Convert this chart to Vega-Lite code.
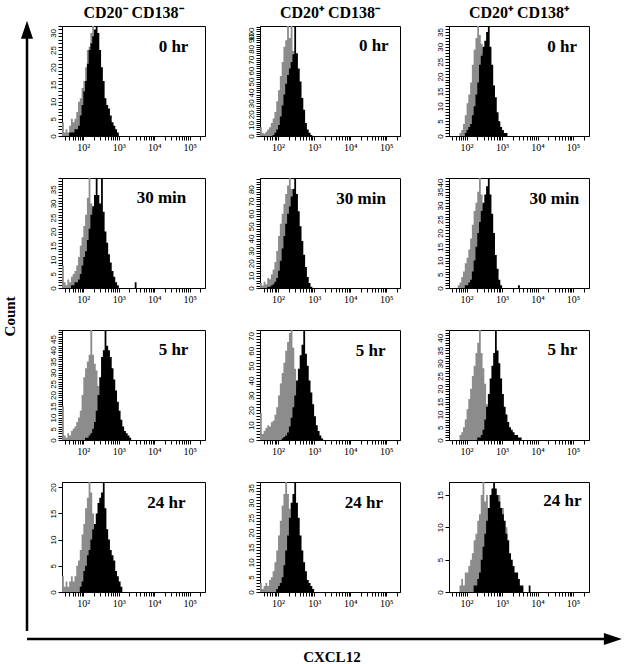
{
"$schema": "https://vega.github.io/schema/vega-lite/v6.json",
"padding": {"left": 0, "top": 4, "right": 0, "bottom": 0},
"background": "#ffffff",
"config": {
  "view": {"stroke": "#000000", "strokeWidth": 1},
  "axis": {"grid": false, "domainColor": "#000000", "tickColor": "#000000", "tickSize": 4, "ticks": true, "labelColor": "#000000", "labelFont": "Liberation Serif", "labelFontSize": 10, "labelPadding": 2, "labelFlush": false, "labelOverlap": false},
  "axisY": {"labelAngle": 270, "labelAlign": "center", "labelBaseline": "bottom", "labelFont": "Liberation Sans", "labelFontSize": 8, "labelPadding": 1},
  "title": {"font": "Liberation Serif", "fontSize": 16, "fontWeight": "bold", "color": "#000000", "offset": 5, "frame": "group"},
  "text": {"font": "Liberation Serif", "fontWeight": "bold", "fontSize": 17, "color": "#000000", "align": "center", "baseline": "middle"},
  "area": {"interpolate": "step-after", "clip": true}
},
"datasets": {
"p11": [{"x":25.1,"g":4,"b":0},{"x":28.2,"g":1,"b":0},{"x":31.6,"g":2,"b":0},{"x":35.5,"g":1,"b":0},{"x":39.8,"g":3,"b":1},{"x":44.7,"g":5,"b":1},{"x":50.1,"g":4,"b":1},{"x":56.2,"g":5,"b":2},{"x":63.1,"g":7,"b":2},{"x":70.8,"g":10,"b":3},{"x":79.4,"g":11,"b":6},{"x":89.1,"g":14,"b":9},{"x":100,"g":16,"b":13},{"x":112,"g":20,"b":16},{"x":126,"g":25,"b":21},{"x":141,"g":26,"b":25},{"x":158,"g":30,"b":27},{"x":178,"g":32,"b":29},{"x":200,"g":27,"b":31},{"x":224,"g":26,"b":32},{"x":251,"g":22,"b":30},{"x":282,"g":18,"b":25},{"x":316,"g":14,"b":20},{"x":355,"g":10,"b":16},{"x":398,"g":7,"b":11},{"x":447,"g":4,"b":9},{"x":501,"g":3,"b":8},{"x":562,"g":1,"b":6},{"x":631,"g":0,"b":4},{"x":708,"g":0,"b":3},{"x":794,"g":0,"b":2},{"x":891,"g":0,"b":1},{"x":1000,"g":0,"b":0}],
"p12": [{"x":31.6,"g":8,"b":0},{"x":35.5,"g":3,"b":0},{"x":39.8,"g":2,"b":0},{"x":44.7,"g":4,"b":0},{"x":50.1,"g":6,"b":0},{"x":56.2,"g":8,"b":0},{"x":63.1,"g":12,"b":0},{"x":70.8,"g":16,"b":1},{"x":79.4,"g":22,"b":3},{"x":89.1,"g":32,"b":6},{"x":100,"g":42,"b":10},{"x":112,"g":55,"b":18},{"x":126,"g":68,"b":28},{"x":141,"g":82,"b":38},{"x":158,"g":88,"b":48},{"x":178,"g":101,"b":56},{"x":200,"g":90,"b":62},{"x":224,"g":101,"b":68},{"x":251,"g":78,"b":75},{"x":282,"g":62,"b":101},{"x":316,"g":45,"b":76},{"x":355,"g":30,"b":62},{"x":398,"g":18,"b":50},{"x":447,"g":10,"b":35},{"x":501,"g":5,"b":24},{"x":562,"g":2,"b":12},{"x":631,"g":0,"b":6},{"x":708,"g":0,"b":3},{"x":794,"g":0,"b":1},{"x":891,"g":0,"b":0}],
"p13": [{"x":63.1,"g":1,"b":0},{"x":70.8,"g":2,"b":0},{"x":79.4,"g":4,"b":0},{"x":89.1,"g":7,"b":1},{"x":100,"g":11,"b":2},{"x":112,"g":14,"b":3},{"x":126,"g":18,"b":4},{"x":141,"g":24,"b":7},{"x":158,"g":29,"b":10},{"x":178,"g":33,"b":14},{"x":200,"g":37,"b":18},{"x":224,"g":34,"b":24},{"x":251,"g":31,"b":27},{"x":282,"g":28,"b":30},{"x":316,"g":22,"b":32},{"x":355,"g":16,"b":35},{"x":398,"g":11,"b":37},{"x":447,"g":7,"b":30},{"x":501,"g":4,"b":24},{"x":562,"g":2,"b":17},{"x":631,"g":1,"b":13},{"x":708,"g":0,"b":8},{"x":794,"g":0,"b":5},{"x":891,"g":0,"b":3},{"x":1000,"g":0,"b":2},{"x":1122,"g":0,"b":1},{"x":1259,"g":0,"b":1},{"x":1413,"g":0,"b":0}],
"p21": [{"x":25.1,"g":8,"b":0},{"x":28.2,"g":2,"b":0},{"x":31.6,"g":1,"b":0},{"x":35.5,"g":3,"b":0},{"x":39.8,"g":2,"b":0},{"x":44.7,"g":4,"b":1},{"x":50.1,"g":5,"b":1},{"x":56.2,"g":6,"b":2},{"x":63.1,"g":8,"b":2},{"x":70.8,"g":11,"b":3},{"x":79.4,"g":15,"b":5},{"x":89.1,"g":18,"b":8},{"x":100,"g":22,"b":11},{"x":112,"g":26,"b":13},{"x":126,"g":32,"b":17},{"x":141,"g":39,"b":21},{"x":158,"g":30,"b":26},{"x":178,"g":28,"b":29},{"x":200,"g":24,"b":33},{"x":224,"g":20,"b":39},{"x":251,"g":15,"b":33},{"x":282,"g":11,"b":30},{"x":316,"g":8,"b":39},{"x":355,"g":5,"b":27},{"x":398,"g":3,"b":20},{"x":447,"g":1,"b":16},{"x":501,"g":0,"b":12},{"x":562,"g":0,"b":9},{"x":631,"g":0,"b":6},{"x":708,"g":0,"b":4},{"x":794,"g":0,"b":2},{"x":891,"g":0,"b":1},{"x":1000,"g":0,"b":0},{"x":2512,"g":0,"b":0},{"x":2818,"g":0,"b":2},{"x":3162,"g":0,"b":0}],
"p22": [{"x":31.6,"g":4,"b":0},{"x":35.5,"g":2,"b":0},{"x":39.8,"g":5,"b":0},{"x":44.7,"g":3,"b":0},{"x":50.1,"g":8,"b":1},{"x":56.2,"g":7,"b":1},{"x":63.1,"g":11,"b":2},{"x":70.8,"g":15,"b":3},{"x":79.4,"g":21,"b":5},{"x":89.1,"g":30,"b":8},{"x":100,"g":42,"b":14},{"x":112,"g":52,"b":22},{"x":126,"g":60,"b":32},{"x":141,"g":68,"b":42},{"x":158,"g":76,"b":52},{"x":178,"g":83,"b":60},{"x":200,"g":89,"b":66},{"x":224,"g":80,"b":74},{"x":251,"g":70,"b":80},{"x":282,"g":55,"b":89},{"x":316,"g":42,"b":76},{"x":355,"g":30,"b":62},{"x":398,"g":18,"b":50},{"x":447,"g":10,"b":38},{"x":501,"g":5,"b":27},{"x":562,"g":2,"b":17},{"x":631,"g":0,"b":9},{"x":708,"g":0,"b":4},{"x":794,"g":0,"b":1},{"x":891,"g":0,"b":0}],
"p23": [{"x":56.2,"g":1,"b":0},{"x":63.1,"g":2,"b":0},{"x":70.8,"g":4,"b":0},{"x":79.4,"g":6,"b":0},{"x":89.1,"g":9,"b":1},{"x":100,"g":11,"b":1},{"x":112,"g":14,"b":2},{"x":126,"g":18,"b":3},{"x":141,"g":23,"b":6},{"x":158,"g":28,"b":10},{"x":178,"g":31,"b":15},{"x":200,"g":35,"b":20},{"x":224,"g":40,"b":24},{"x":251,"g":34,"b":28},{"x":282,"g":30,"b":31},{"x":316,"g":24,"b":34},{"x":355,"g":18,"b":37},{"x":398,"g":12,"b":40},{"x":447,"g":8,"b":34},{"x":501,"g":4,"b":27},{"x":562,"g":2,"b":20},{"x":631,"g":0,"b":12},{"x":708,"g":0,"b":7},{"x":794,"g":0,"b":3},{"x":891,"g":0,"b":1},{"x":1000,"g":0,"b":0},{"x":2512,"g":0,"b":0},{"x":2818,"g":0,"b":1},{"x":3162,"g":0,"b":0}],
"p31": [{"x":25.1,"g":15,"b":0},{"x":28.2,"g":2,"b":0},{"x":31.6,"g":1,"b":0},{"x":35.5,"g":3,"b":0},{"x":39.8,"g":2,"b":0},{"x":44.7,"g":4,"b":0},{"x":50.1,"g":5,"b":0},{"x":56.2,"g":6,"b":0},{"x":63.1,"g":8,"b":0},{"x":70.8,"g":10,"b":0},{"x":79.4,"g":13,"b":0},{"x":89.1,"g":20,"b":0},{"x":100,"g":28,"b":0},{"x":112,"g":32,"b":1},{"x":126,"g":35,"b":1},{"x":141,"g":38,"b":2},{"x":158,"g":49,"b":3},{"x":178,"g":38,"b":5},{"x":200,"g":34,"b":8},{"x":224,"g":31,"b":13},{"x":251,"g":24,"b":20},{"x":282,"g":16,"b":28},{"x":316,"g":9,"b":37},{"x":355,"g":5,"b":40},{"x":398,"g":2,"b":49},{"x":447,"g":0,"b":42},{"x":501,"g":0,"b":40},{"x":562,"g":0,"b":37},{"x":631,"g":0,"b":32},{"x":708,"g":0,"b":27},{"x":794,"g":0,"b":22},{"x":891,"g":0,"b":17},{"x":1000,"g":0,"b":13},{"x":1122,"g":0,"b":9},{"x":1259,"g":0,"b":6},{"x":1413,"g":0,"b":4},{"x":1585,"g":0,"b":3},{"x":1778,"g":0,"b":2},{"x":1995,"g":0,"b":1},{"x":2239,"g":0,"b":0}],
"p32": [{"x":31.6,"g":18,"b":0},{"x":35.5,"g":4,"b":0},{"x":39.8,"g":6,"b":0},{"x":44.7,"g":8,"b":0},{"x":50.1,"g":10,"b":0},{"x":56.2,"g":9,"b":0},{"x":63.1,"g":12,"b":0},{"x":70.8,"g":13,"b":0},{"x":79.4,"g":17,"b":0},{"x":89.1,"g":22,"b":0},{"x":100,"g":30,"b":0},{"x":112,"g":38,"b":0},{"x":126,"g":45,"b":1},{"x":141,"g":52,"b":2},{"x":158,"g":60,"b":3},{"x":178,"g":66,"b":5},{"x":200,"g":72,"b":9},{"x":224,"g":74,"b":15},{"x":251,"g":62,"b":22},{"x":282,"g":48,"b":30},{"x":316,"g":35,"b":40},{"x":355,"g":22,"b":48},{"x":398,"g":12,"b":57},{"x":447,"g":6,"b":64},{"x":501,"g":3,"b":74},{"x":562,"g":1,"b":58},{"x":631,"g":0,"b":50},{"x":708,"g":0,"b":40},{"x":794,"g":0,"b":32},{"x":891,"g":0,"b":24},{"x":1000,"g":0,"b":16},{"x":1122,"g":0,"b":10},{"x":1259,"g":0,"b":6},{"x":1413,"g":0,"b":3},{"x":1585,"g":0,"b":1},{"x":1778,"g":0,"b":0}],
"p33": [{"x":63.1,"g":2,"b":0},{"x":70.8,"g":3,"b":0},{"x":79.4,"g":5,"b":0},{"x":89.1,"g":8,"b":0},{"x":100,"g":12,"b":0},{"x":112,"g":16,"b":0},{"x":126,"g":20,"b":0},{"x":141,"g":25,"b":0},{"x":158,"g":29,"b":0},{"x":178,"g":34,"b":0},{"x":200,"g":38,"b":1},{"x":224,"g":43,"b":1},{"x":251,"g":34,"b":2},{"x":282,"g":28,"b":4},{"x":316,"g":22,"b":8},{"x":355,"g":14,"b":13},{"x":398,"g":9,"b":18},{"x":447,"g":5,"b":24},{"x":501,"g":3,"b":29},{"x":562,"g":1,"b":34},{"x":631,"g":0,"b":43},{"x":708,"g":0,"b":35},{"x":794,"g":0,"b":30},{"x":891,"g":0,"b":24},{"x":1000,"g":0,"b":18},{"x":1122,"g":0,"b":13},{"x":1259,"g":0,"b":10},{"x":1413,"g":0,"b":7},{"x":1585,"g":0,"b":5},{"x":1778,"g":0,"b":4},{"x":1995,"g":0,"b":3},{"x":2239,"g":0,"b":2},{"x":2512,"g":0,"b":2},{"x":2818,"g":0,"b":1},{"x":3162,"g":0,"b":1},{"x":3548,"g":0,"b":0}],
"p41": [{"x":25.1,"g":3,"b":0},{"x":28.2,"g":1,"b":0},{"x":31.6,"g":2,"b":0},{"x":35.5,"g":1,"b":0},{"x":39.8,"g":2,"b":0},{"x":44.7,"g":3,"b":0},{"x":50.1,"g":2,"b":0},{"x":56.2,"g":3,"b":0},{"x":63.1,"g":5,"b":0},{"x":70.8,"g":6,"b":0},{"x":79.4,"g":8,"b":1},{"x":89.1,"g":11,"b":2},{"x":100,"g":13,"b":4},{"x":112,"g":16,"b":5},{"x":126,"g":18,"b":7},{"x":141,"g":21,"b":8},{"x":158,"g":19,"b":10},{"x":178,"g":15,"b":12},{"x":200,"g":13,"b":13},{"x":224,"g":11,"b":15},{"x":251,"g":9,"b":17},{"x":282,"g":7,"b":18},{"x":316,"g":6,"b":19},{"x":355,"g":5,"b":21},{"x":398,"g":4,"b":16},{"x":447,"g":3,"b":12},{"x":501,"g":3,"b":10},{"x":562,"g":2,"b":8},{"x":631,"g":5,"b":7},{"x":708,"g":2,"b":6},{"x":794,"g":1,"b":4},{"x":891,"g":0,"b":3},{"x":1000,"g":0,"b":2},{"x":1122,"g":0,"b":1},{"x":1259,"g":0,"b":0}],
"p42": [{"x":31.6,"g":3,"b":0},{"x":35.5,"g":1,"b":0},{"x":39.8,"g":2,"b":0},{"x":44.7,"g":3,"b":0},{"x":50.1,"g":2,"b":0},{"x":56.2,"g":4,"b":0},{"x":63.1,"g":5,"b":0},{"x":70.8,"g":7,"b":0},{"x":79.4,"g":10,"b":0},{"x":89.1,"g":14,"b":1},{"x":100,"g":19,"b":2},{"x":112,"g":24,"b":3},{"x":126,"g":29,"b":5},{"x":141,"g":33,"b":9},{"x":158,"g":37,"b":14},{"x":178,"g":33,"b":19},{"x":200,"g":28,"b":25},{"x":224,"g":22,"b":30},{"x":251,"g":16,"b":33},{"x":282,"g":11,"b":37},{"x":316,"g":7,"b":30},{"x":355,"g":4,"b":25},{"x":398,"g":2,"b":19},{"x":447,"g":1,"b":14},{"x":501,"g":0,"b":10},{"x":562,"g":0,"b":7},{"x":631,"g":0,"b":4},{"x":708,"g":0,"b":3},{"x":794,"g":0,"b":2},{"x":891,"g":0,"b":1},{"x":1000,"g":0,"b":0}],
"p43": [{"x":63.1,"g":1,"b":0},{"x":70.8,"g":2,"b":0},{"x":79.4,"g":1,"b":0},{"x":89.1,"g":3,"b":0},{"x":100,"g":3,"b":0},{"x":112,"g":4,"b":0},{"x":126,"g":5,"b":0},{"x":141,"g":6,"b":0},{"x":158,"g":8,"b":1},{"x":178,"g":9,"b":1},{"x":200,"g":11,"b":2},{"x":224,"g":12,"b":3},{"x":251,"g":15,"b":5},{"x":282,"g":17,"b":7},{"x":316,"g":14,"b":9},{"x":355,"g":15,"b":11},{"x":398,"g":13,"b":13},{"x":447,"g":12,"b":15},{"x":501,"g":11,"b":16},{"x":562,"g":10,"b":17},{"x":631,"g":9,"b":16},{"x":708,"g":8,"b":15},{"x":794,"g":15,"b":14},{"x":891,"g":6,"b":13},{"x":1000,"g":13,"b":12},{"x":1122,"g":4,"b":11},{"x":1259,"g":10,"b":9},{"x":1413,"g":2,"b":8},{"x":1585,"g":2,"b":6},{"x":1778,"g":1,"b":5},{"x":1995,"g":0,"b":4},{"x":2239,"g":0,"b":3},{"x":2512,"g":0,"b":3},{"x":2818,"g":0,"b":2},{"x":3162,"g":0,"b":1},{"x":3548,"g":0,"b":1},{"x":3981,"g":0,"b":0},{"x":5012,"g":0,"b":0},{"x":5623,"g":0,"b":1},{"x":6310,"g":0,"b":0}]
},
"spacing": 0,
"vconcat": [
 {"spacing": 0, "hconcat": [
  {"width": 48, "height": 605, "view": {"stroke": null},
   "layer": [
    {"data": {"values": [{"x": 0.5625, "y": 0, "y2": 0.985}]}, "mark": {"type": "rule", "color": "#000000", "strokeWidth": 2.5},
     "encoding": {"x": {"field": "x", "type": "quantitative", "scale": {"domain": [0, 1]}, "axis": null}, "y": {"field": "y", "type": "quantitative", "scale": {"domain": [0, 1]}, "axis": null}, "y2": {"field": "y2"}}},
    {"data": {"values": [{"x": 0.5625, "y": 0.992}]}, "mark": {"type": "point", "shape": "M0,-1L0.6,0.8L-0.6,0.8Z", "filled": true, "color": "#000000", "opacity": 1, "size": 400},
     "encoding": {"x": {"field": "x", "type": "quantitative", "scale": {"domain": [0, 1]}, "axis": null}, "y": {"field": "y", "type": "quantitative", "scale": {"domain": [0, 1]}, "axis": null}}},
    {"data": {"values": [{"x": 0.21, "y": 0.52, "t": "Count"}]}, "mark": {"type": "text", "angle": 270, "fontSize": 15},
     "encoding": {"x": {"field": "x", "type": "quantitative", "scale": {"domain": [0, 1]}, "axis": null}, "y": {"field": "y", "type": "quantitative", "scale": {"domain": [0, 1]}, "axis": null}, "text": {"field": "t"}}}
   ]},
  {"spacing": 40, "hconcat": [
   {"spacing": 24, "vconcat": [
    {"width": 143, "height": 110, "title": "CD20⁻ CD138⁻", "data": {"name": "p11"},
     "encoding": {"x": {"field": "x", "type": "quantitative", "scale": {"type": "log", "domain": [25, 270000], "nice": false}, "axis": {"title": null, "values": [30,40,50,60,70,80,90,100,200,300,400,500,600,700,800,900,1000,2000,3000,4000,5000,6000,7000,8000,9000,10000,20000,30000,40000,50000,60000,70000,80000,90000,100000,200000], "labelExpr": "datum.value === 100 ? '10²' : datum.value === 1000 ? '10³' : datum.value === 10000 ? '10⁴' : datum.value === 100000 ? '10⁵' : ''"}},
                  "y": {"field": "n", "type": "quantitative", "scale": {"domain": [0, 32], "nice": false}, "axis": {"title": null, "ticks": true, "tickSize": 4, "labelOverlap": false, "values": [0,1,2,3,4,5,6,7,8,9,10,11,12,13,14,15,16,17,18,19,20,21,22,23,24,25,26,27,28,29,30,31,32], "labelExpr": "datum.value % 5 === 0 ? datum.label : ''"}}},
     "layer": [
      {"transform": [{"fold": ["g", "b"], "as": ["s", "n"]}, {"filter": "datum.s === 'g'"}], "mark": {"type": "area", "color": "#8c8c8c"}},
      {"transform": [{"fold": ["g", "b"], "as": ["s", "n"]}, {"filter": "datum.s === 'b'"}], "mark": {"type": "area", "color": "#000000"}},
      {"data": {"values": [{"x": 35000, "n": 26, "t": "0 hr"}]}, "mark": {"type": "text"}, "encoding": {"text": {"field": "t"}}}
     ]},
    {"width": 143, "height": 110, "data": {"name": "p21"},
     "encoding": {"x": {"field": "x", "type": "quantitative", "scale": {"type": "log", "domain": [25, 270000], "nice": false}, "axis": {"title": null, "values": [30,40,50,60,70,80,90,100,200,300,400,500,600,700,800,900,1000,2000,3000,4000,5000,6000,7000,8000,9000,10000,20000,30000,40000,50000,60000,70000,80000,90000,100000,200000], "labelExpr": "datum.value === 100 ? '10²' : datum.value === 1000 ? '10³' : datum.value === 10000 ? '10⁴' : datum.value === 100000 ? '10⁵' : ''"}},
                  "y": {"field": "n", "type": "quantitative", "scale": {"domain": [0, 39], "nice": false}, "axis": {"title": null, "ticks": true, "tickSize": 4, "labelOverlap": false, "values": [0,1,2,3,4,5,6,7,8,9,10,11,12,13,14,15,16,17,18,19,20,21,22,23,24,25,26,27,28,29,30,31,32,33,34,35,36,37,38,39], "labelExpr": "datum.value % 5 === 0 ? datum.label : ''"}}},
     "layer": [
      {"transform": [{"fold": ["g", "b"], "as": ["s", "n"]}, {"filter": "datum.s === 'g'"}], "mark": {"type": "area", "color": "#8c8c8c"}},
      {"transform": [{"fold": ["g", "b"], "as": ["s", "n"]}, {"filter": "datum.s === 'b'"}], "mark": {"type": "area", "color": "#000000"}},
      {"data": {"values": [{"x": 16000, "n": 32, "t": "30 min"}]}, "mark": {"type": "text"}, "encoding": {"text": {"field": "t"}}}
     ]},
    {"width": 143, "height": 110, "data": {"name": "p31"},
     "encoding": {"x": {"field": "x", "type": "quantitative", "scale": {"type": "log", "domain": [25, 270000], "nice": false}, "axis": {"title": null, "values": [30,40,50,60,70,80,90,100,200,300,400,500,600,700,800,900,1000,2000,3000,4000,5000,6000,7000,8000,9000,10000,20000,30000,40000,50000,60000,70000,80000,90000,100000,200000], "labelExpr": "datum.value === 100 ? '10²' : datum.value === 1000 ? '10³' : datum.value === 10000 ? '10⁴' : datum.value === 100000 ? '10⁵' : ''"}},
                  "y": {"field": "n", "type": "quantitative", "scale": {"domain": [0, 49], "nice": false}, "axis": {"title": null, "ticks": true, "tickSize": 4, "labelOverlap": false, "values": [0,1,2,3,4,5,6,7,8,9,10,11,12,13,14,15,16,17,18,19,20,21,22,23,24,25,26,27,28,29,30,31,32,33,34,35,36,37,38,39,40,41,42,43,44,45,46,47,48,49], "labelExpr": "datum.value % 5 === 0 ? datum.label : ''"}}},
     "layer": [
      {"transform": [{"fold": ["g", "b"], "as": ["s", "n"]}, {"filter": "datum.s === 'g'"}], "mark": {"type": "area", "color": "#8c8c8c"}},
      {"transform": [{"fold": ["g", "b"], "as": ["s", "n"]}, {"filter": "datum.s === 'b'"}], "mark": {"type": "area", "color": "#000000"}},
      {"data": {"values": [{"x": 35000, "n": 40, "t": "5 hr"}]}, "mark": {"type": "text"}, "encoding": {"text": {"field": "t"}}}
     ]},
    {"width": 143, "height": 110, "data": {"name": "p41"},
     "encoding": {"x": {"field": "x", "type": "quantitative", "scale": {"type": "log", "domain": [25, 270000], "nice": false}, "axis": {"title": null, "values": [30,40,50,60,70,80,90,100,200,300,400,500,600,700,800,900,1000,2000,3000,4000,5000,6000,7000,8000,9000,10000,20000,30000,40000,50000,60000,70000,80000,90000,100000,200000], "labelExpr": "datum.value === 100 ? '10²' : datum.value === 1000 ? '10³' : datum.value === 10000 ? '10⁴' : datum.value === 100000 ? '10⁵' : ''"}},
                  "y": {"field": "n", "type": "quantitative", "scale": {"domain": [0, 21], "nice": false}, "axis": {"title": null, "ticks": true, "tickSize": 4, "labelOverlap": false, "values": [0,5,10,15,20]}}},
     "layer": [
      {"transform": [{"fold": ["g", "b"], "as": ["s", "n"]}, {"filter": "datum.s === 'g'"}], "mark": {"type": "area", "color": "#8c8c8c"}},
      {"transform": [{"fold": ["g", "b"], "as": ["s", "n"]}, {"filter": "datum.s === 'b'"}], "mark": {"type": "area", "color": "#000000"}},
      {"data": {"values": [{"x": 22000, "n": 17, "t": "24 hr"}]}, "mark": {"type": "text"}, "encoding": {"text": {"field": "t"}}}
     ]}
   ]},
   {"spacing": 34, "hconcat": [
    {"spacing": 24, "vconcat": [
     {"width": 140, "height": 110, "title": "CD20⁺ CD138⁻", "data": {"name": "p12"},
      "encoding": {"x": {"field": "x", "type": "quantitative", "scale": {"type": "log", "domain": [31.6, 240000], "nice": false}, "axis": {"title": null, "values": [40,50,60,70,80,90,100,200,300,400,500,600,700,800,900,1000,2000,3000,4000,5000,6000,7000,8000,9000,10000,20000,30000,40000,50000,60000,70000,80000,90000,100000,200000], "labelExpr": "datum.value === 100 ? '10²' : datum.value === 1000 ? '10³' : datum.value === 10000 ? '10⁴' : datum.value === 100000 ? '10⁵' : ''"}},
                   "y": {"field": "n", "type": "quantitative", "scale": {"domain": [0, 101], "nice": false}, "axis": {"title": null, "ticks": true, "tickSize": 4, "labelOverlap": false, "labelAlign": {"condition": {"test": "datum.value === 100", "value": "right"}, "value": "center"}, "values": [0,2,4,6,8,10,12,14,16,18,20,22,24,26,28,30,32,34,36,38,40,42,44,46,48,50,52,54,56,58,60,62,64,66,68,70,72,74,76,78,80,82,84,86,88,90,92,94,96,98,100], "labelExpr": "datum.value % 10 === 0 ? datum.label : ''"}}},
      "layer": [
       {"transform": [{"fold": ["g", "b"], "as": ["s", "n"]}, {"filter": "datum.s === 'g'"}], "mark": {"type": "area", "color": "#8c8c8c"}},
       {"transform": [{"fold": ["g", "b"], "as": ["s", "n"]}, {"filter": "datum.s === 'b'"}], "mark": {"type": "area", "color": "#000000"}},
       {"data": {"values": [{"x": 45000, "n": 83, "t": "0 hr"}]}, "mark": {"type": "text"}, "encoding": {"text": {"field": "t"}}}
      ]},
     {"width": 140, "height": 110, "data": {"name": "p22"},
      "encoding": {"x": {"field": "x", "type": "quantitative", "scale": {"type": "log", "domain": [31.6, 240000], "nice": false}, "axis": {"title": null, "values": [40,50,60,70,80,90,100,200,300,400,500,600,700,800,900,1000,2000,3000,4000,5000,6000,7000,8000,9000,10000,20000,30000,40000,50000,60000,70000,80000,90000,100000,200000], "labelExpr": "datum.value === 100 ? '10²' : datum.value === 1000 ? '10³' : datum.value === 10000 ? '10⁴' : datum.value === 100000 ? '10⁵' : ''"}},
                   "y": {"field": "n", "type": "quantitative", "scale": {"domain": [0, 89], "nice": false}, "axis": {"title": null, "ticks": true, "tickSize": 4, "labelOverlap": false, "values": [0,2,4,6,8,10,12,14,16,18,20,22,24,26,28,30,32,34,36,38,40,42,44,46,48,50,52,54,56,58,60,62,64,66,68,70,72,74,76,78,80,82,84,86,88], "labelExpr": "datum.value % 10 === 0 ? datum.label : ''"}}},
      "layer": [
       {"transform": [{"fold": ["g", "b"], "as": ["s", "n"]}, {"filter": "datum.s === 'g'"}], "mark": {"type": "area", "color": "#8c8c8c"}},
       {"transform": [{"fold": ["g", "b"], "as": ["s", "n"]}, {"filter": "datum.s === 'b'"}], "mark": {"type": "area", "color": "#000000"}},
       {"data": {"values": [{"x": 20000, "n": 72, "t": "30 min"}]}, "mark": {"type": "text"}, "encoding": {"text": {"field": "t"}}}
      ]},
     {"width": 140, "height": 110, "data": {"name": "p32"},
      "encoding": {"x": {"field": "x", "type": "quantitative", "scale": {"type": "log", "domain": [31.6, 240000], "nice": false}, "axis": {"title": null, "values": [40,50,60,70,80,90,100,200,300,400,500,600,700,800,900,1000,2000,3000,4000,5000,6000,7000,8000,9000,10000,20000,30000,40000,50000,60000,70000,80000,90000,100000,200000], "labelExpr": "datum.value === 100 ? '10²' : datum.value === 1000 ? '10³' : datum.value === 10000 ? '10⁴' : datum.value === 100000 ? '10⁵' : ''"}},
                   "y": {"field": "n", "type": "quantitative", "scale": {"domain": [0, 74], "nice": false}, "axis": {"title": null, "ticks": true, "tickSize": 4, "labelOverlap": false, "values": [0,2,4,6,8,10,12,14,16,18,20,22,24,26,28,30,32,34,36,38,40,42,44,46,48,50,52,54,56,58,60,62,64,66,68,70,72,74], "labelExpr": "datum.value % 10 === 0 ? datum.label : ''"}}},
      "layer": [
       {"transform": [{"fold": ["g", "b"], "as": ["s", "n"]}, {"filter": "datum.s === 'g'"}], "mark": {"type": "area", "color": "#8c8c8c"}},
       {"transform": [{"fold": ["g", "b"], "as": ["s", "n"]}, {"filter": "datum.s === 'b'"}], "mark": {"type": "area", "color": "#000000"}},
       {"data": {"values": [{"x": 37000, "n": 60, "t": "5 hr"}]}, "mark": {"type": "text"}, "encoding": {"text": {"field": "t"}}}
      ]},
     {"width": 140, "height": 110, "data": {"name": "p42"},
      "encoding": {"x": {"field": "x", "type": "quantitative", "scale": {"type": "log", "domain": [31.6, 240000], "nice": false}, "axis": {"title": null, "values": [40,50,60,70,80,90,100,200,300,400,500,600,700,800,900,1000,2000,3000,4000,5000,6000,7000,8000,9000,10000,20000,30000,40000,50000,60000,70000,80000,90000,100000,200000], "labelExpr": "datum.value === 100 ? '10²' : datum.value === 1000 ? '10³' : datum.value === 10000 ? '10⁴' : datum.value === 100000 ? '10⁵' : ''"}},
                   "y": {"field": "n", "type": "quantitative", "scale": {"domain": [0, 37], "nice": false}, "axis": {"title": null, "ticks": true, "tickSize": 4, "labelOverlap": false, "values": [0,1,2,3,4,5,6,7,8,9,10,11,12,13,14,15,16,17,18,19,20,21,22,23,24,25,26,27,28,29,30,31,32,33,34,35,36,37], "labelExpr": "datum.value % 5 === 0 ? datum.label : ''"}}},
      "layer": [
       {"transform": [{"fold": ["g", "b"], "as": ["s", "n"]}, {"filter": "datum.s === 'g'"}], "mark": {"type": "area", "color": "#8c8c8c"}},
       {"transform": [{"fold": ["g", "b"], "as": ["s", "n"]}, {"filter": "datum.s === 'b'"}], "mark": {"type": "area", "color": "#000000"}},
       {"data": {"values": [{"x": 24000, "n": 30, "t": "24 hr"}]}, "mark": {"type": "text"}, "encoding": {"text": {"field": "t"}}}
      ]}
    ]},
    {"spacing": 24, "vconcat": [
     {"width": 140, "height": 110, "title": "CD20⁺ CD138⁺", "data": {"name": "p13"},
      "encoding": {"x": {"field": "x", "type": "quantitative", "scale": {"type": "log", "domain": [32, 280000], "nice": false}, "axis": {"title": null, "values": [40,50,60,70,80,90,100,200,300,400,500,600,700,800,900,1000,2000,3000,4000,5000,6000,7000,8000,9000,10000,20000,30000,40000,50000,60000,70000,80000,90000,100000,200000], "labelExpr": "datum.value === 100 ? '10²' : datum.value === 1000 ? '10³' : datum.value === 10000 ? '10⁴' : datum.value === 100000 ? '10⁵' : ''"}},
                   "y": {"field": "n", "type": "quantitative", "scale": {"domain": [0, 37], "nice": false}, "axis": {"title": null, "ticks": true, "tickSize": 4, "labelOverlap": false, "values": [0,1,2,3,4,5,6,7,8,9,10,11,12,13,14,15,16,17,18,19,20,21,22,23,24,25,26,27,28,29,30,31,32,33,34,35,36,37], "labelExpr": "datum.value % 5 === 0 ? datum.label : ''"}}},
      "layer": [
       {"transform": [{"fold": ["g", "b"], "as": ["s", "n"]}, {"filter": "datum.s === 'g'"}], "mark": {"type": "area", "color": "#8c8c8c"}},
       {"transform": [{"fold": ["g", "b"], "as": ["s", "n"]}, {"filter": "datum.s === 'b'"}], "mark": {"type": "area", "color": "#000000"}},
       {"data": {"values": [{"x": 49000, "n": 30, "t": "0 hr"}]}, "mark": {"type": "text"}, "encoding": {"text": {"field": "t"}}}
      ]},
     {"width": 140, "height": 110, "data": {"name": "p23"},
      "encoding": {"x": {"field": "x", "type": "quantitative", "scale": {"type": "log", "domain": [32, 280000], "nice": false}, "axis": {"title": null, "values": [40,50,60,70,80,90,100,200,300,400,500,600,700,800,900,1000,2000,3000,4000,5000,6000,7000,8000,9000,10000,20000,30000,40000,50000,60000,70000,80000,90000,100000,200000], "labelExpr": "datum.value === 100 ? '10²' : datum.value === 1000 ? '10³' : datum.value === 10000 ? '10⁴' : datum.value === 100000 ? '10⁵' : ''"}},
                   "y": {"field": "n", "type": "quantitative", "scale": {"domain": [0, 40], "nice": false}, "axis": {"title": null, "ticks": true, "tickSize": 4, "labelOverlap": false, "labelAlign": {"condition": {"test": "datum.value === 40", "value": "right"}, "value": "center"}, "values": [0,1,2,3,4,5,6,7,8,9,10,11,12,13,14,15,16,17,18,19,20,21,22,23,24,25,26,27,28,29,30,31,32,33,34,35,36,37,38,39,40], "labelExpr": "datum.value % 5 === 0 ? datum.label : ''"}}},
      "layer": [
       {"transform": [{"fold": ["g", "b"], "as": ["s", "n"]}, {"filter": "datum.s === 'g'"}], "mark": {"type": "area", "color": "#8c8c8c"}},
       {"transform": [{"fold": ["g", "b"], "as": ["s", "n"]}, {"filter": "datum.s === 'b'"}], "mark": {"type": "area", "color": "#000000"}},
       {"data": {"values": [{"x": 29500, "n": 32.5, "t": "30 min"}]}, "mark": {"type": "text"}, "encoding": {"text": {"field": "t"}}}
      ]},
     {"width": 140, "height": 110, "data": {"name": "p33"},
      "encoding": {"x": {"field": "x", "type": "quantitative", "scale": {"type": "log", "domain": [32, 280000], "nice": false}, "axis": {"title": null, "values": [40,50,60,70,80,90,100,200,300,400,500,600,700,800,900,1000,2000,3000,4000,5000,6000,7000,8000,9000,10000,20000,30000,40000,50000,60000,70000,80000,90000,100000,200000], "labelExpr": "datum.value === 100 ? '10²' : datum.value === 1000 ? '10³' : datum.value === 10000 ? '10⁴' : datum.value === 100000 ? '10⁵' : ''"}},
                   "y": {"field": "n", "type": "quantitative", "scale": {"domain": [0, 43], "nice": false}, "axis": {"title": null, "ticks": true, "tickSize": 4, "labelOverlap": false, "values": [0,1,2,3,4,5,6,7,8,9,10,11,12,13,14,15,16,17,18,19,20,21,22,23,24,25,26,27,28,29,30,31,32,33,34,35,36,37,38,39,40,41,42,43], "labelExpr": "datum.value % 5 === 0 ? datum.label : ''"}}},
      "layer": [
       {"transform": [{"fold": ["g", "b"], "as": ["s", "n"]}, {"filter": "datum.s === 'g'"}], "mark": {"type": "area", "color": "#8c8c8c"}},
       {"transform": [{"fold": ["g", "b"], "as": ["s", "n"]}, {"filter": "datum.s === 'b'"}], "mark": {"type": "area", "color": "#000000"}},
       {"data": {"values": [{"x": 50000, "n": 35, "t": "5 hr"}]}, "mark": {"type": "text"}, "encoding": {"text": {"field": "t"}}}
      ]},
     {"width": 140, "height": 110, "data": {"name": "p43"},
      "encoding": {"x": {"field": "x", "type": "quantitative", "scale": {"type": "log", "domain": [32, 280000], "nice": false}, "axis": {"title": null, "values": [40,50,60,70,80,90,100,200,300,400,500,600,700,800,900,1000,2000,3000,4000,5000,6000,7000,8000,9000,10000,20000,30000,40000,50000,60000,70000,80000,90000,100000,200000], "labelExpr": "datum.value === 100 ? '10²' : datum.value === 1000 ? '10³' : datum.value === 10000 ? '10⁴' : datum.value === 100000 ? '10⁵' : ''"}},
                   "y": {"field": "n", "type": "quantitative", "scale": {"domain": [0, 17], "nice": false}, "axis": {"title": null, "ticks": true, "tickSize": 4, "labelOverlap": false, "values": [0,5,10,15]}}},
      "layer": [
       {"transform": [{"fold": ["g", "b"], "as": ["s", "n"]}, {"filter": "datum.s === 'g'"}], "mark": {"type": "area", "color": "#8c8c8c"}},
       {"transform": [{"fold": ["g", "b"], "as": ["s", "n"]}, {"filter": "datum.s === 'b'"}], "mark": {"type": "area", "color": "#000000"}},
       {"data": {"values": [{"x": 50000, "n": 14, "t": "24 hr"}]}, "mark": {"type": "text"}, "encoding": {"text": {"field": "t"}}}
      ]}
    ]}
   ]}
  ]}
 ]},
 {"width": 625, "height": 27, "view": {"stroke": null},
  "layer": [
   {"data": {"values": [{"x": 0.0432, "x2": 0.975, "y": 1}]}, "mark": {"type": "rule", "color": "#000000", "strokeWidth": 2.5},
    "encoding": {"x": {"field": "x", "type": "quantitative", "scale": {"domain": [0, 1]}, "axis": null}, "x2": {"field": "x2"}, "y": {"field": "y", "type": "quantitative", "scale": {"domain": [0, 1]}, "axis": null}}},
   {"data": {"values": [{"x": 0.979, "y": 1}]}, "mark": {"type": "point", "shape": "M1,0L-0.8,-0.6L-0.8,0.6Z", "filled": true, "color": "#000000", "opacity": 1, "size": 400},
    "encoding": {"x": {"field": "x", "type": "quantitative", "scale": {"domain": [0, 1]}, "axis": null}, "y": {"field": "y", "type": "quantitative", "scale": {"domain": [0, 1]}, "axis": null}}},
   {"data": {"values": [{"x": 0.531, "y": 0.333, "t": "CXCL12"}]}, "mark": {"type": "text", "fontSize": 15},
    "encoding": {"x": {"field": "x", "type": "quantitative", "scale": {"domain": [0, 1]}, "axis": null}, "y": {"field": "y", "type": "quantitative", "scale": {"domain": [0, 1]}, "axis": null}, "text": {"field": "t"}}}
  ]}
]
}
